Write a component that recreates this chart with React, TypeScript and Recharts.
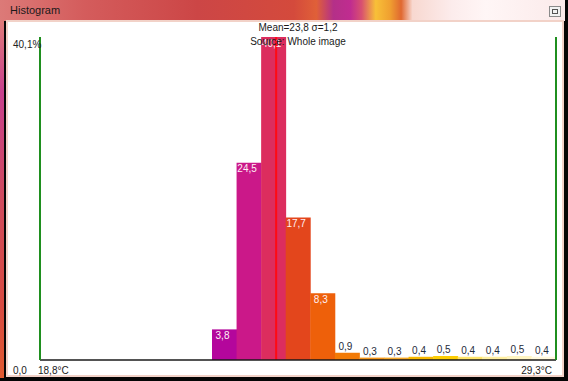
import React from 'react';
import { BarChart, Bar, XAxis, YAxis, Cell, LabelList, Rectangle } from 'recharts';

// ---- data ----
const binStarts = [
  '18.8', '19.3', '19.8', '20.3', '20.8', '21.3', '21.8', '22.3', '22.8', '23.3', '23.8',
  '24.3', '24.8', '25.3', '25.8', '26.3', '26.8', '27.3', '27.8', '28.3', '28.8',
];
const binWidth = 0.5;
const percentages = [
  0, 0, 0, 0, 0, 0, 0, 3.8, 24.5, 40.1, 17.7, 8.3, 0.9, 0.3, 0.3, 0.4, 0.5, 0.4, 0.4, 0.5, 0.4,
];
const binColors = [
  '#a0009c', '#a4009c', '#a8029c', '#ac029c', '#b0049c', '#b2049c', '#b4069c',
  '#b4069c', '#cb1889', '#dc2d5e', '#e3461c', '#ee600a', '#f27a06', '#f5961a',
  '#f6a828', '#f8b800', '#fccd04', '#fde36a', '#feeea0', '#fef4c0', '#fff8dc',
];
const tempTickLabels = ['18,8°C', '29,3°C'];
const percentRange = [0, 40.1];
const percentTickLabels = ['0,0', '40,1%'];
const meanMarkerTemp = 23.6;
const statsText = 'Mean=23,8 σ=1,2';
const sourceText = 'Source: Whole image';
const windowTitle = 'Histogram';

const data = binStarts.map((b, i) => ({ bin: b, pct: percentages[i] }));

const FONT = '"Liberation Sans", Arial, sans-serif';
const fmt = (v: number) => v.toFixed(1).replace('.', ',');

const BinShape = (props: any) => {
  const { x, y, width, height, fill, payload } = props;
  const start = parseFloat(payload.bin);
  const hasMarker = meanMarkerTemp >= start && meanMarkerTemp < start + binWidth;
  const mx = x + ((meanMarkerTemp - start) / binWidth) * width;
  return (
    <g>
      <Rectangle x={x} y={y} width={width} height={height} fill={fill} />
      {hasMarker && (
        <line x1={mx} x2={mx} y1={y} y2={y + height} stroke="#ff0a14" strokeWidth={2} />
      )}
    </g>
  );
};

const ValueLabel = (props: any) => {
  const { x, y, width, value } = props;
  if (!value) return null;
  const inside = value >= 3;
  return (
    <text
      x={x + width / 2 - 2}
      y={inside ? y + 6 : y - 6}
      textAnchor="middle"
      dominantBaseline="central"
      fill={inside ? '#fff0f4' : '#1e2a3a'}
      fontSize={10}
      fontFamily={FONT}
    >
      {fmt(value)}
    </text>
  );
};

const YTick = (props: any) => {
  const { y, payload } = props;
  const isTop = payload.value > 0;
  return (
    <text
      x={13}
      y={isTop ? y + 7 : y + 10}
      dominantBaseline="central"
      fill="#222"
      fontSize={10}
      fontFamily={FONT}
    >
      {isTop ? percentTickLabels[1] : percentTickLabels[0]}
    </text>
  );
};

const XTick = (props: any) => {
  const { x, y, payload, index } = props;
  const half = payload && payload.offset ? payload.offset : 12.3;
  if (index === 0) {
    return (
      <text x={x - half - 2} y={y} textAnchor="start" dominantBaseline="central" fill="#222" fontSize={10} fontFamily={FONT}>
        {tempTickLabels[0]}
      </text>
    );
  }
  if (index === binStarts.length - 1) {
    return (
      <text x={x + half - 4} y={y} textAnchor="end" dominantBaseline="central" fill="#222" fontSize={10} fontFamily={FONT}>
        {tempTickLabels[1]}
      </text>
    );
  }
  return <g />;
};

export default function App() {
  return (
    <div
      style={{
        position: 'absolute',
        left: 0,
        top: 0,
        width: 568,
        height: 381,
        background: '#050505',
        overflow: 'hidden',
        fontFamily: FONT,
      }}
    >
      {/* title bar */}
      <div
        style={{
          position: 'absolute',
          left: 0,
          top: 0,
          width: 565,
          height: 21,
          background:
            'linear-gradient(90deg, #dc7a78 0%, #d45c5c 15%, #cc4646 35%, #d44a3c 52%, #e06038 56%, #b43088 59%, #c02c90 62%, #d85070 64%, #f8c038 66.5%, #f0a030 69%, #e06830 71%, #f8d8d0 73%, #fcecec 80%, #fff6f6 86%, #fbeaea 100%)',
        }}
      />
      <div
        style={{
          position: 'absolute',
          left: 10,
          top: 4,
          fontSize: 11,
          color: '#1a1a1a',
          lineHeight: '13px',
        }}
      >
        {windowTitle}
      </div>
      {/* close button */}
      <div
        style={{
          position: 'absolute',
          left: 549,
          top: 6,
          width: 12,
          height: 11,
          boxSizing: 'border-box',
          border: '1px solid #8a8a8a',
          background: '#f2f2f2',
        }}
      >
        <div
          style={{
            position: 'absolute',
            left: 2,
            top: 2,
            width: 6,
            height: 5,
            boxSizing: 'border-box',
            border: '1px solid #555',
          }}
        />
      </div>
      {/* left coloured strip */}
      <div
        style={{
          position: 'absolute',
          left: 0,
          top: 21,
          width: 4,
          height: 357,
          background: 'linear-gradient(180deg, #e07a78 0%, #c8408c 20%, #d04a5c 50%, #d84a40 80%, #e05a30 100%)',
        }}
      />
      {/* content frame */}
      <div
        style={{
          position: 'absolute',
          left: 6,
          top: 20,
          width: 558,
          height: 357,
          boxSizing: 'border-box',
          border: '2px solid #f2d2c8',
          background: '#ffffff',
        }}
      />
      <div style={{ position: 'absolute', left: 0, top: 0 }}>
        <BarChart
          width={568}
          height={381}
          data={data}
          margin={{ top: 37, right: 0, bottom: 0, left: 0 }}
          barCategoryGap={0}
          barGap={0}
        >
          <XAxis
            dataKey="bin"
            type="category"
            interval={0}
            height={21}
            tickSize={0}
            tickMargin={10}
            axisLine={{ stroke: '#1a1a1a', strokeWidth: 1.5 }}
            tickLine={false}
            tick={<XTick />}
          />
          <YAxis
            yAxisId="pct"
            domain={percentRange}
            ticks={percentRange}
            interval={0}
            width={40}
            tickSize={0}
            tickMargin={0}
            axisLine={{ stroke: '#1f8f1f', strokeWidth: 2 }}
            tickLine={false}
            tick={<YTick />}
            allowDataOverflow
          />
          <YAxis
            yAxisId="right"
            orientation="right"
            domain={percentRange}
            width={12}
            axisLine={{ stroke: '#1f8f1f', strokeWidth: 2 }}
            tickLine={false}
            tick={false}
          />
          <Bar
            dataKey="pct"
            yAxisId="pct"
            isAnimationActive={false}
            shape={<BinShape />}
          >
            {data.map((d, i) => (
              <Cell key={d.bin} fill={binColors[i]} />
            ))}
            <LabelList dataKey="pct" content={<ValueLabel />} />
          </Bar>
        </BarChart>
      </div>
      {/* stats text */}
      <div
        style={{
          position: 'absolute',
          left: 198,
          top: 22,
          width: 200,
          textAlign: 'center',
          fontSize: 10,
          lineHeight: '12px',
          color: '#1a1a1a',
        }}
      >
        {statsText}
      </div>
      <div
        style={{
          position: 'absolute',
          left: 198,
          top: 36,
          width: 200,
          textAlign: 'center',
          fontSize: 10,
          lineHeight: '12px',
          color: '#1a1a1a',
        }}
      >
        {sourceText}
      </div>
    </div>
  );
}
